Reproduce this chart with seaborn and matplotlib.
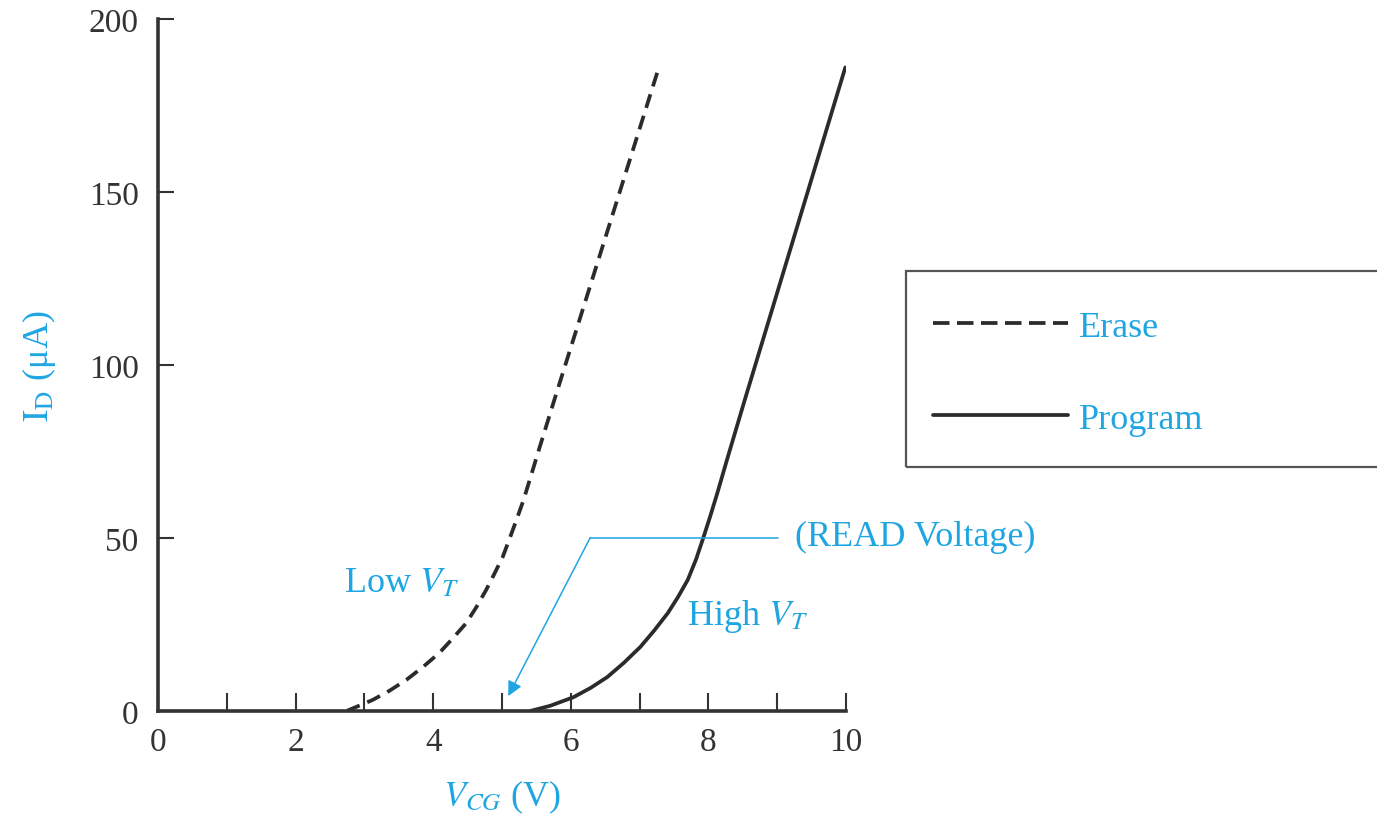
import numpy as np
import pandas as pd
import matplotlib
matplotlib.use("Agg")
import matplotlib.pyplot as plt
import seaborn as sns
from matplotlib.patches import Rectangle

# values
erase_v = [2.74, 2.98, 3.12, 3.36, 3.61, 3.85, 4.09, 4.28, 4.48, 4.63, 4.77,
           4.89, 5.01, 5.11, 5.21, 5.31, 5.40, 5.55, 5.77, 7.28]
erase_i = [0, 2.0, 3.2, 5.8, 9.0, 12.7, 16.8, 20.9, 25.4, 30.1, 35.0,
           39.7, 44.5, 49.8, 55.2, 60.8, 66.6, 76.4, 90.5, 186]
program_v = [5.41, 5.70, 6.04, 6.29, 6.53, 6.77, 7.01, 7.21, 7.41, 7.56, 7.70,
             7.82, 7.93, 8.03, 8.13, 8.27, 8.53, 9.99]
program_i = [0, 1.5, 4.0, 6.7, 9.8, 13.9, 18.5, 23.2, 28.3, 33.0, 37.9,
             43.8, 50.3, 56.5, 63.0, 72.6, 90.0, 186]

x_ticks = [0, 1, 2, 3, 4, 5, 6, 7, 8, 9, 10]
x_labels = ["0", "", "2", "", "4", "", "6", "", "8", "", "10"]
y_ticks = [0, 50, 100, 150, 200]

read_v = 9.01      # where the READ Voltage leader starts
read_bend_v = 6.28
read_i = 50
read_target = (5.09, 4.3)

sns.set_theme(style="white")
plt.rcParams['font.family'] = ['Liberation Serif', 'DejaVu Serif']
plt.rcParams['mathtext.fontset'] = 'stix'

blue = "#1fa6e2"
dark = "#2b2b2b"

df = pd.concat([
    pd.DataFrame({"V": erase_v, "I": erase_i, "mode": "Erase"}),
    pd.DataFrame({"V": program_v, "I": program_i, "mode": "Program"}),
])

fig = plt.figure(figsize=(13.77, 8.2), dpi=100)
ax = fig.add_axes([158 / 1377, 108 / 820, 688 / 1377, 692 / 820])

sns.lineplot(data=df, x="V", y="I", style="mode",
             dashes={"Erase": (3.8, 2.2), "Program": ""},
             color=dark, lw=2.7, ax=ax, legend=True, sort=False)
for ln in ax.lines:
    ln.set_solid_joinstyle("round")
    ln.set_dash_capstyle("butt")

ax.set_xlim(0, 10)
ax.set_ylim(0, 200)
ax.set_xticks(x_ticks)
ax.set_xticklabels(x_labels)
ax.set_yticks(y_ticks)

for s in ["top", "right"]:
    ax.spines[s].set_visible(False)
for s in ["left", "bottom"]:
    ax.spines[s].set_color("#333333")
    ax.spines[s].set_linewidth(2.6)
ax.tick_params(axis="x", bottom=True, direction="in", length=13, width=1.5,
               color="#333333", pad=11, labelsize=24, labelcolor="#333333")
ax.tick_params(axis="y", left=True, direction="in", length=11.5, width=1.5,
               color="#333333", pad=14, labelsize=24, labelcolor="#333333")

ax.set_xlabel(r"$V_{CG}$ (V)", fontsize=26, color=blue, labelpad=15)
ax.set_ylabel(r"$\mathrm{I_D}$ (μA)", fontsize=26, color=blue, labelpad=22)

# READ voltage leader + arrow
ax.plot([read_v, read_bend_v], [read_i, read_i], color=blue, lw=1.1, clip_on=False)
ax.annotate("", xy=read_target, xytext=(read_bend_v, read_i),
            arrowprops=dict(arrowstyle="-|>", color=blue, lw=1.1,
                            mutation_scale=22, shrinkA=0, shrinkB=0))
ax.text(9.26, 48, "(READ Voltage)", color=blue, fontsize=26, va="baseline", ha="left")
ax.text(2.70, 34.7, r"Low $V_T$", color=blue, fontsize=26, va="baseline", ha="left")
ax.text(7.69, 25.1, r"High $V_T$", color=blue, fontsize=26, va="baseline", ha="left")

# legend entries + a box that runs off the right edge
handles, labels = ax.get_legend_handles_labels()
leg = ax.legend(handles, labels, loc="center left",
                bbox_to_anchor=(933 / 1377, 1 - 374 / 820),
                bbox_transform=fig.transFigure, frameon=False,
                fontsize=26, labelcolor=blue, handlelength=3.75,
                handletextpad=0.3, labelspacing=1.62,
                borderpad=0, borderaxespad=0)
for h in leg.get_lines():
    h.set_color(dark)
    h.set_linewidth(2.7)
    h.set_dash_capstyle("butt")
leg.get_lines()[0].set_dashes((4.4, 2.0))

fig.patches.append(Rectangle((906 / 1377, 1 - 468 / 820), 0.4, 196 / 820,
                             transform=fig.transFigure, fill=False,
                             edgecolor="#555555", lw=1.6))

fig.savefig("out.png", dpi=100)
